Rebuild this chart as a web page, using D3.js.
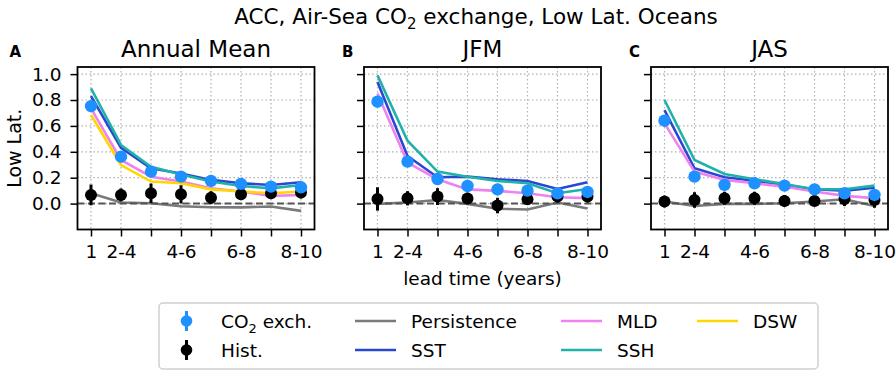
<!DOCTYPE html>
<html>
<head>
<meta charset="utf-8">
<script src="https://cdn.jsdelivr.net/npm/d3@7"></script>
<style>
  body { margin: 0; background: #fff; }
  text { font-family: "DejaVu Sans", sans-serif; }
</style>
</head>
<body>
<div id="chart"></div>
<script>
let leads = [1, 2, 3, 4, 5, 6, 7, 8];
let leadLabels = ["1", "2-4", "", "4-6", "", "6-8", "", "8-10"];
let yTicks = [0.0, 0.2, 0.4, 0.6, 0.8, 1.0];
let panelNames = ["Annual Mean", "JFM", "JAS"];
let panelLetters = ["A", "B", "C"];

let co2Ann = [0.753, 0.362, 0.247, 0.208, 0.175, 0.152, 0.131, 0.126];
let histAnn = [0.067, 0.067, 0.08, 0.072, 0.046, 0.072, 0.08, 0.085];
let histErrAnn = [0.08, 0.05, 0.075, 0.07, 0.05, 0.045, 0.045, 0.045];
let persAnn = [0.08, 0.008, 0.003, -0.02, -0.028, -0.029, -0.022, -0.056];
let sstAnn = [0.83, 0.43, 0.273, 0.232, 0.183, 0.157, 0.144, 0.165];
let sshAnn = [0.89, 0.453, 0.285, 0.225, 0.17, 0.136, 0.118, 0.144];
let mldAnn = [0.735, 0.337, 0.208, 0.17, 0.118, 0.093, 0.06, 0.067];
let dswAnn = [0.684, 0.298, 0.17, 0.157, 0.11, 0.093, 0.08, 0.093];

let co2Jfm = [0.787, 0.324, 0.19, 0.136, 0.11, 0.1, 0.08, 0.09];
let histJfm = [0.036, 0.041, 0.054, 0.039, -0.015, 0.034, 0.054, 0.054];
let histErrJfm = [0.09, 0.055, 0.065, 0.045, 0.06, 0.045, 0.045, 0.045];
let persJfm = [-0.002, 0.008, 0.028, -0.002, -0.04, -0.045, 0.008, -0.038];
let sstJfm = [0.94, 0.368, 0.204, 0.208, 0.188, 0.175, 0.113, 0.165];
let sshJfm = [0.99, 0.486, 0.247, 0.208, 0.175, 0.157, 0.08, 0.113];
let mldJfm = [0.85, 0.316, 0.188, 0.11, 0.098, 0.08, 0.049, 0.042];

let co2Jas = [0.64, 0.208, 0.144, 0.157, 0.139, 0.11, 0.08, 0.067];
let histJas = [0.016, 0.028, 0.041, 0.041, 0.021, 0.021, 0.036, 0.028];
let histErrJas = [0.045, 0.06, 0.05, 0.05, 0.045, 0.04, 0.055, 0.06];
let persJas = [0.016, -0.018, -0.002, -0.002, 0.003, 0.016, 0.034, -0.018];
let sstJas = [0.722, 0.273, 0.204, 0.177, 0.144, 0.111, 0.1, 0.123];
let sshJas = [0.8, 0.337, 0.229, 0.188, 0.152, 0.111, 0.111, 0.139];
let mldJas = [0.62, 0.247, 0.183, 0.157, 0.131, 0.093, 0.06, 0.042];

let colors = {co2: "#1e90ff", hist: "#000", pers: "#7a7a7a", sst: "#2b47d1", mld: "#ee82ee", ssh: "#20b2aa", dsw: "#ffd700"};

let panels = [
  {co2: co2Ann, hist: histAnn, err: histErrAnn, lines: [["pers", persAnn], ["sst", sstAnn], ["mld", mldAnn], ["ssh", sshAnn], ["dsw", dswAnn]]},
  {co2: co2Jfm, hist: histJfm, err: histErrJfm, lines: [["pers", persJfm], ["sst", sstJfm], ["mld", mldJfm], ["ssh", sshJfm]]},
  {co2: co2Jas, hist: histJas, err: histErrJas, lines: [["pers", persJas], ["sst", sstJas], ["mld", mldJas], ["ssh", sshJas]]}
];

let width = 896, height = 373;
let lefts = [77.5, 364, 651];
let pw = 237, plotTop = 67, ph = 162.5;

let svg = d3.select("#chart").append("svg")
    .attr("width", width)
    .attr("height", height);

let x = d3.scaleLinear().domain([0.55, 8.45]).range([0, pw]);
let y = d3.scaleLinear().domain([-0.2, 1.055]).range([ph, 0]);

svg.append("text")
    .attr("x", 476)
    .attr("y", 24)
    .attr("text-anchor", "middle")
    .attr("font-size", 21.5)
    .call(t => {
      t.append("tspan").text("ACC, Air-Sea CO");
      t.append("tspan").attr("font-size", 15).attr("dy", 5).text("2");
      t.append("tspan").attr("dy", -5).text(" exchange, Low Lat. Oceans");
    });

panels.forEach((p, k) => {
  let g = svg.append("g").attr("transform", `translate(${lefts[k]},${plotTop})`);

  // grid
  g.append("g")
      .attr("stroke", "#b0b0b0")
      .attr("stroke-width", 1.2)
      .attr("stroke-dasharray", "1.5,2.5")
      .call(gg => gg.selectAll(".vx").data(leads).join("line")
          .attr("x1", d => x(d)).attr("x2", d => x(d))
          .attr("y1", 0).attr("y2", ph))
      .call(gg => gg.selectAll(".hy").data(yTicks).join("line")
          .attr("x1", 0).attr("x2", pw)
          .attr("y1", d => y(d)).attr("y2", d => y(d)));

  let line = d3.line().x((d, i) => x(leads[i])).y(d => y(d));

  g.append("g")
      .attr("fill", "none")
      .attr("stroke-width", 2.6)
      .selectAll("path")
      .data(p.lines)
      .join("path")
      .attr("stroke", d => colors[d[0]])
      .attr("d", d => line(d[1]));

  g.append("line")
      .attr("x1", 0).attr("x2", pw)
      .attr("y1", y(0)).attr("y2", y(0))
      .attr("stroke", "#555")
      .attr("stroke-width", 2)
      .attr("stroke-dasharray", "7,3.5");

  g.append("g")
      .attr("stroke", "#000")
      .attr("stroke-width", 3)
      .selectAll("line")
      .data(p.hist)
      .join("line")
      .attr("x1", (d, i) => x(leads[i]))
      .attr("x2", (d, i) => x(leads[i]))
      .attr("y1", (d, i) => y(d - p.err[i]))
      .attr("y2", (d, i) => y(d + p.err[i]));

  g.append("g")
      .selectAll("circle")
      .data(p.hist)
      .join("circle")
      .attr("fill", colors.hist)
      .attr("cx", (d, i) => x(leads[i]))
      .attr("cy", d => y(d))
      .attr("r", 6);

  g.append("g")
      .selectAll("circle")
      .data(p.co2)
      .join("circle")
      .attr("fill", colors.co2)
      .attr("cx", (d, i) => x(leads[i]))
      .attr("cy", d => y(d))
      .attr("r", 6.2);

  g.append("rect")
      .attr("width", pw).attr("height", ph)
      .attr("fill", "none")
      .attr("stroke", "#000")
      .attr("stroke-width", 1.8);

  g.append("g")
      .attr("transform", `translate(0,${ph})`)
      .call(d3.axisBottom(x).tickValues(leads).tickFormat((d, i) => leadLabels[i]).tickSize(7).tickPadding(8))
      .call(a => a.select(".domain").remove())
      .call(a => a.selectAll(".tick line").attr("stroke-width", 1.5))
      .call(a => a.selectAll(".tick text").attr("font-size", 18.5).attr("font-family", "DejaVu Sans").attr("fill", "#000"));

  g.append("g")
      .call(d3.axisLeft(y).tickValues(yTicks).tickFormat(k == 0 ? d3.format(".1f") : () => "").tickSize(7).tickPadding(9))
      .call(a => a.select(".domain").remove())
      .call(a => a.selectAll(".tick line").attr("stroke-width", 1.5))
      .call(a => a.selectAll(".tick text").attr("font-size", 18.5).attr("font-family", "DejaVu Sans").attr("fill", "#000"));

  g.append("text")
      .attr("x", pw / 2)
      .attr("y", -10)
      .attr("text-anchor", "middle")
      .attr("font-size", 23)
      .text(panelNames[k]);

  g.append("text")
      .attr("x", k == 0 ? -68 : -22)
      .attr("y", -10)
      .attr("font-size", 15)
      .attr("font-weight", "bold")
      .text(panelLetters[k]);
});

svg.append("text")
    .attr("transform", `translate(21,${plotTop + ph / 2}) rotate(-90)`)
    .attr("text-anchor", "middle")
    .attr("font-size", 19)
    .text("Low Lat.");

svg.append("text")
    .attr("x", lefts[1] + pw / 2)
    .attr("y", 285)
    .attr("text-anchor", "middle")
    .attr("font-size", 18.5)
    .text("lead time (years)");

// legend
let legend = svg.append("g");
legend.append("rect")
    .attr("x", 159).attr("y", 303)
    .attr("width", 659).attr("height", 66)
    .attr("rx", 4)
    .attr("fill", "#fff")
    .attr("stroke", "#d0d0d0")
    .attr("stroke-width", 1.5);

let rows = [321, 350];
let markerItems = [["co2", "CO", "2", " exch."], ["hist", "Hist.", "", ""]];
markerItems.forEach((m, i) => {
  legend.append("line")
      .attr("x1", 186.5).attr("x2", 186.5)
      .attr("y1", rows[i] - 10).attr("y2", rows[i] + 10)
      .attr("stroke", colors[m[0]]).attr("stroke-width", 3);
  legend.append("circle")
      .attr("cx", 186.5).attr("cy", rows[i]).attr("r", 5.8)
      .attr("fill", colors[m[0]]);
  let t = legend.append("text")
      .attr("x", 221).attr("y", rows[i] + 6.5)
      .attr("font-size", 18.5);
  t.append("tspan").text(m[1]);
  if (m[2]) {
    t.append("tspan").attr("font-size", 13).attr("dy", 5).text(m[2]);
    t.append("tspan").attr("dy", -5).text(m[3]);
  }
});

let lineItems = [
  ["pers", "Persistence", 355, 0], ["sst", "SST", 355, 1],
  ["mld", "MLD", 561, 0], ["ssh", "SSH", 561, 1],
  ["dsw", "DSW", 697, 0]
];
legend.selectAll(".li")
    .data(lineItems)
    .join("line")
    .attr("x1", d => d[2]).attr("x2", d => d[2] + 41)
    .attr("y1", d => rows[d[3]]).attr("y2", d => rows[d[3]])
    .attr("stroke", d => colors[d[0]])
    .attr("stroke-width", 2.6);
legend.selectAll(".lt")
    .data(lineItems)
    .join("text")
    .attr("x", d => d[2] + 56)
    .attr("y", d => rows[d[3]] + 6.5)
    .attr("font-size", 18.5)
    .text(d => d[1]);
</script>
</body>
</html>
